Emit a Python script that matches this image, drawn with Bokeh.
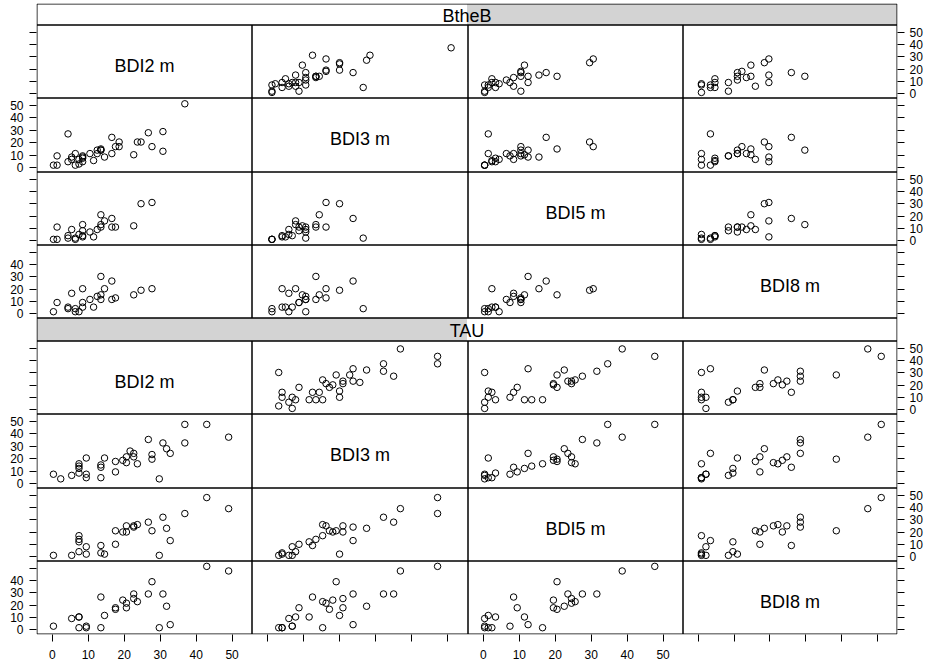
import numpy as np
from bokeh.plotting import figure
from bokeh.models import Range1d, LinearAxis, FixedTicker
from bokeh.core.properties import value
from bokeh.embed import file_html
from bokeh.resources import INLINE

N = np.nan

# ---------------- data ----------------
groups = ["BtheB", "TAU"]          # top block, bottom block
group_level = [1, 0]               # position of the level among the factor levels (TAU 1st, BtheB 2nd)
var_labels = ["BDI2 m", "BDI3 m", "BDI5 m", "BDI8 m"]
tick_values = [0, 10, 20, 30, 40, 50]
tick_labels = ["0", "10", "20", "30", "40", "50"]

btheb_bdi2m = [16, 17, 0, 13, 5, 13, 30, 8, 12, 12, 6, 8, 10, 8, 24, 7, 1, 27, 1, 5, 7, 18, 18, 6, 30, 23, 36, 14, 13, 4, 26, 8, 4, 11, 16, 22]
btheb_bdi3m = [24, 16, 0, 14, 5, 13, 29, 8, 10, 13, 0, 6, 10, 3, 20, 1, 8, 16, 0, 7, 5, 20, 16, 10, 12, 20, 53, 7, 13, 27, 28, 7, 3, 4, 10, 9]
btheb_bdi5m = [17, 10, 0, 20, 8, 12, N, 7, 8, N, 0, 3, 6, 2, 29, N, 10, 30, 0, N, 4, N, N, 1, N, N, N, 15, 10, 1, N, 12, 3, 2, 10, 11]
btheb_bdi8m = [20, 9, 0, 11, 12, 23, N, 6, 10, N, 2, 3, 8, 15, 14, N, 6, 15, N, N, 0, N, N, 0, N, N, N, 15, 8, 2, N, N, 3, 3, 8, 11]

tau_bdi2m = [2, 7, 20, 32, 27, 26, 13, 30, 17, 36, 7, 14, 17, 27, 19, 29, 42, 48, 21, 13, 36, 20, 23, 7, 7, 9, 22, 9, 22, 31, 13, 9, 0, 5]
tau_bdi3m = [2, 7, 21, 24, 23, 36, 3, 33, 17, 49, 15, 20, 8, 19, 18, 2, 49, 38, 26, 14, 33, 16, 15, 13, 11, 3, 21, 20, 24, 28, 12, 6, 6, 5]
tau_bdi5m = [N, 3, 19, 12, N, 27, 2, 31, 20, 34, 16, 1, 9, 20, 19, 0, 47, 38, N, N, N, 24, 25, 13, 11, 1, 24, N, 23, 22, 8, 7, 0, 0]
tau_bdi8m = [N, 7, 13, 2, N, 22, 0, 22, 12, N, 0, 8, 13, 30, 18, 0, 40, 37, N, N, N, 16, 17, N, 7, 0, 19, N, 22, 14, 20, 1, 1, 6]

group_data = {
    "BtheB": [btheb_bdi2m, btheb_bdi3m, btheb_bdi5m, btheb_bdi8m],
    "TAU": [tau_bdi2m, tau_bdi3m, tau_bdi5m, tau_bdi8m],
}

# ---------------- scales ----------------
var_limits = [(-4.5, 54.4), (-5.9, 58.0), (-4.6, 54.8), (-4.1, 43.5)]
tick_lim_x = (-4.3, 55.55)
tick_lim_y = (-3.4, 55.85)

# ---------------- layout (frame coordinates, pixels) ----------------
FONT = "Liberation Sans"
LEFT, RIGHT, TOP, BOTTOM = 36, 36, 3, 30
FRAME_W, FRAME_H = 861, 631
COL_X = [0.5, 215.5, 431.5, 646.5, 860.5]
STRIP_Y = [(609.5, 630.5), (293.5, 316.5)]
ROW_Y = [
    [(536.5, 609.5), (462.5, 536.5), (389.5, 462.5), (316.5, 389.5)],
    [(220.5, 293.5), (146.5, 220.5), (73.5, 146.5), (0.5, 73.5)],
]
STRIP_FILL = "#d3d3d3"

p = figure(width=LEFT + FRAME_W + RIGHT, height=TOP + FRAME_H + BOTTOM,
           x_range=Range1d(0, FRAME_W), y_range=Range1d(0, FRAME_H),
           output_backend="svg", toolbar_location=None,
           x_axis_location=None, y_axis_location=None)
p.min_border = 0
p.min_border_left = LEFT
p.min_border_right = RIGHT
p.min_border_top = TOP
p.min_border_bottom = BOTTOM
p.outline_line_color = None
p.background_fill_color = "white"
p.border_fill_color = "white"
for g in p.grid:
    g.visible = False


def scale(v, lim, a, b):
    return round(a + (v - lim[0]) / (lim[1] - lim[0]) * (b - a), 3)


# strips
for gi, grp in enumerate(groups):
    y0, y1 = STRIP_Y[gi]
    lvl = group_level[gi]
    half = (COL_X[-1] - COL_X[0]) / 2
    p.quad(left=[COL_X[0] + lvl * half], right=[COL_X[0] + (lvl + 1) * half], bottom=[y0], top=[y1],
           fill_color=STRIP_FILL, line_color=None)
    p.quad(left=[COL_X[0]], right=[COL_X[-1]], bottom=[y0], top=[y1],
           fill_color=None, line_color="black", line_width=1)
    p.text(x=[(COL_X[0] + COL_X[-1]) / 2], y=[(y0 + y1) / 2], text=[grp],
           text_font=value(FONT), text_font_size="18px", text_color="black",
           text_align="center", text_baseline="middle", y_offset=1)

# panels
for gi, grp in enumerate(groups):
    data = group_data[grp]
    for r in range(4):
        yb, yt = ROW_Y[gi][r]
        for c in range(4):
            xl, xr = COL_X[c], COL_X[c + 1]
            p.quad(left=[xl], right=[xr], bottom=[yb], top=[yt],
                   fill_color=None, line_color="black", line_width=1)
            if r == c:
                p.text(x=[(xl + xr) / 2], y=[(yb + yt) / 2], text=[var_labels[r]],
                       text_font=value(FONT), text_font_size="18px", text_color="black",
                       text_align="center", text_baseline="middle", y_offset=4)
            else:
                sub = p.subplot(x_source=Range1d(*var_limits[c]), y_source=Range1d(*var_limits[r]),
                                x_target=Range1d(xl, xr), y_target=Range1d(yb, yt))
                sub.scatter(x=np.array(data[c], dtype=float), y=np.array(data[r], dtype=float),
                            marker="circle", size=6.5, fill_color=None,
                            line_color="black", line_width=1)

# axes: ticks placed at each sub-panel's tick scale
left_ticks, left_over = [], {}
right_ticks, right_over = [], {}
for gi in range(2):
    for r in range(4):
        yb, yt = ROW_Y[gi][r]
        for v, lab in zip(tick_values, tick_labels):
            pos = scale(v, tick_lim_y, yb, yt)
            left_ticks.append(pos)
            right_ticks.append(pos)
            show_left = (r == 1) or (r == 3 and v != 50)
            show_right = r in (0, 2)
            left_over[pos] = lab if show_left else ""
            right_over[pos] = lab if show_right else ""

bottom_ticks, bottom_over = [], {}
for c in range(4):
    xl, xr = COL_X[c], COL_X[c + 1]
    for v, lab in zip(tick_values, tick_labels):
        pos = scale(v, tick_lim_x, xl, xr)
        bottom_ticks.append(pos)
        bottom_over[pos] = lab if c in (0, 2) else ""


def make_axis(ticks, overrides, standoff):
    ax = LinearAxis(ticker=FixedTicker(ticks=ticks), major_label_overrides=overrides)
    ax.axis_line_color = None
    ax.major_tick_line_color = "black"
    ax.major_tick_out = 7
    ax.major_tick_in = 0
    ax.minor_tick_line_color = None
    ax.major_label_text_font = FONT
    ax.major_label_text_font_size = "12px"
    ax.major_label_text_color = "black"
    ax.major_label_standoff = standoff
    return ax


p.add_layout(make_axis(left_ticks, left_over, 6), "left")
p.add_layout(make_axis(right_ticks, right_over, 5), "right")
p.add_layout(make_axis(bottom_ticks, bottom_over, 8), "below")

open("out.html", "w").write(file_html(p, INLINE))
